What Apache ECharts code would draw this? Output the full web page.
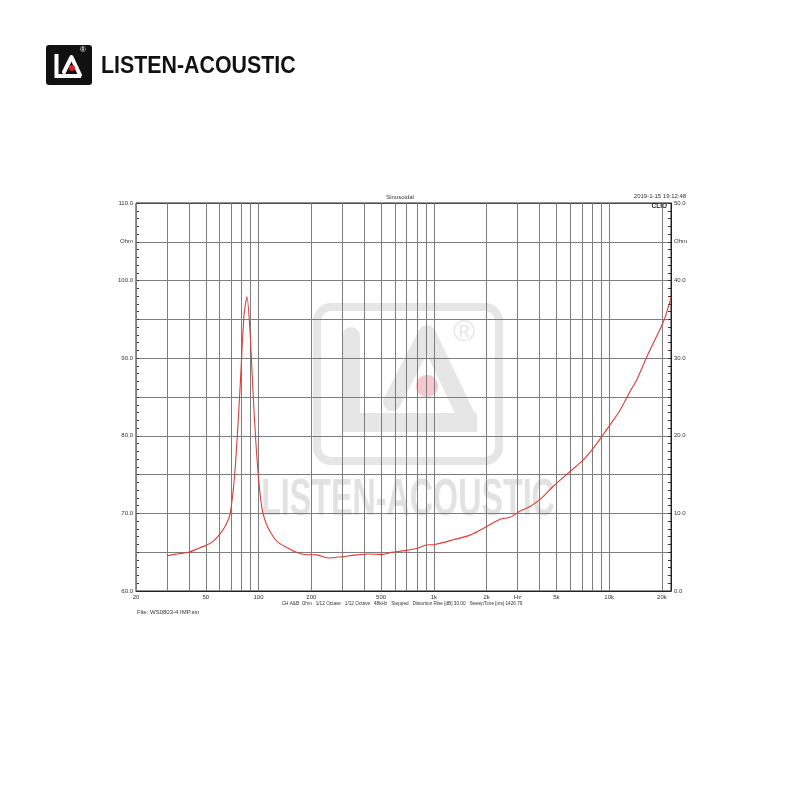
<!DOCTYPE html>
<html>
<head>
<meta charset="utf-8">
<script src="https://cdn.jsdelivr.net/npm/echarts@6/dist/echarts.min.js"></script>
<style>html,body{margin:0;padding:0;background:#fff}#c{width:800px;height:800px}</style>
</head>
<body>
<div id="c"></div>
<script>
// ---- data ----
const freqHz = [30, 35, 40, 46, 50, 55, 60, 64.4, 68.8, 73.4, 78.4, 82.6, 85.9, 89.4, 93.3, 98.4, 104.3, 110.4, 116.2, 124, 132.5, 151, 161.5, 184, 215, 250, 298, 355, 423, 504, 575, 684, 815, 891, 1016, 1292, 1608, 2000, 2384, 2722, 3104, 3541, 4037, 4808, 5985, 7128, 8128, 9077, 10120, 11540, 13160, 14360, 16660, 20560, 22540];
const impedanceOhm = [4.55, 4.8, 5.0, 5.55, 5.85, 6.4, 7.3, 8.3, 9.9, 15.5, 26, 35.5, 37.9, 33.5, 25, 16.5, 10.8, 8.7, 7.7, 6.7, 6.1, 5.4, 5.07, 4.7, 4.65, 4.25, 4.42, 4.62, 4.77, 4.72, 4.98, 5.2, 5.55, 5.9, 6.0, 6.6, 7.2, 8.3, 9.25, 9.5, 10.3, 10.9, 11.8, 13.5, 15.4, 16.9, 18.4, 19.9, 21.4, 23.3, 25.7, 27.2, 30.5, 34.9, 37.8];
const gridFreqs = [20, 30, 40, 50, 60, 70, 80, 90, 100, 200, 300, 400, 500, 600, 700, 800, 900, 1000, 2000, 3000, 4000, 5000, 6000, 7000, 8000, 9000, 10000, 20000];
const xTickLabels = {20: '20', 50: '50', 100: '100', 200: '200', 500: '500', 1000: '1k', 2000: '2k', 3000: 'Hz', 5000: '5k', 10000: '10k', 20000: '20k'};
const leftAxisLabels = {60: '60.0', 70: '70.0', 80: '80.0', 90: '90.0', 100: '100.0', 105: 'Ohm', 110: '110.0'};
const rightAxisLabels = {0: '0.0', 10: '10.0', 20: '20.0', 30: '30.0', 40: '40.0', 45: 'Ohm', 50: '50.0'};
const titleText = 'Sinusoidal';
const dateText = '2019-1-15 19:12:48';
const infoText = 'CH A&B  Ohm   1/12 Octave   1/12 Octave   48kHz   Stepped   Distortion Rise [dB] 30.00   SweepTime [ms] 1426.79';
const fileText = 'File: WS0803-4 IMP.sin';
const brandText = 'LISTEN-ACOUSTIC';

const chart = echarts.init(document.getElementById('c'), null, {renderer: 'canvas'});
const seriesData = freqHz.map((f, i) => [f, impedanceOhm[i]]);
const gridColor = '#7d7d7d';
const wm = '#e6e6e6';

const markData = gridFreqs.map(f => {
  const lab = xTickLabels[f];
  return {
    xAxis: f,
    label: lab ? {show: true, formatter: lab, position: 'start', distance: 3, fontSize: 6, color: '#333', fontFamily: 'Liberation Sans'} : {show: false}
  };
});

const option = {
  backgroundColor: '#fff',
  animation: false,
  grid: {left: 136, right: 129, top: 203, bottom: 209, show: true, borderColor: '#222', borderWidth: 1, backgroundColor: 'transparent', z: 2},
  xAxis: {
    type: 'log', logBase: 10, min: 20, max: 22540,
    axisLine: {show: true, lineStyle: {color: '#222', width: 1}},
    axisTick: {show: false}, axisLabel: {show: false}, splitLine: {show: false}, minorSplitLine: {show: false}
  },
  yAxis: [
    {
      type: 'value', min: 60, max: 110, interval: 5, position: 'left',
      axisLine: {show: true, lineStyle: {color: '#222'}},
      axisTick: {show: true, inside: true, length: 3, lineStyle: {color: '#333'}},
      minorTick: {show: true, splitNumber: 5, length: 3, lineStyle: {color: '#333'}},
      splitLine: {show: true, lineStyle: {color: gridColor, width: 1}},
      axisLabel: {fontSize: 6, color: '#333', margin: 3, fontFamily: 'Liberation Sans', formatter: v => leftAxisLabels[v] || ''}
    },
    {
      type: 'value', min: 0, max: 50, interval: 5, position: 'right',
      axisLine: {show: true, lineStyle: {color: '#222'}},
      axisTick: {show: true, inside: true, length: 3, lineStyle: {color: '#333'}},
      minorTick: {show: true, splitNumber: 5, length: 3, lineStyle: {color: '#333'}},
      splitLine: {show: false},
      axisLabel: {fontSize: 6, color: '#333', margin: 3, fontFamily: 'Liberation Sans', formatter: v => rightAxisLabels[v] || ''}
    }
  ],
  series: [{
    type: 'line', yAxisIndex: 1, data: seriesData, showSymbol: false, smooth: 0.25, z: 5,
    lineStyle: {color: '#e53935', width: 1.1},
    markLine: {silent: true, symbol: 'none', animation: false, lineStyle: {color: gridColor, type: 'solid', width: 1}, label: {show: false}, data: markData}
  }],
  graphic: [
    // watermark (behind the grid)
    {type: 'rect', z: -10, shape: {x: 317, y: 307, width: 182, height: 154, r: 14}, style: {fill: 'none', stroke: wm, lineWidth: 8}},
    {type: 'rect', z: -10, shape: {x: 342, y: 327, width: 18, height: 105, r: [9, 9, 0, 0]}, style: {fill: wm}},
    {type: 'rect', z: -10, shape: {x: 342, y: 413, width: 135, height: 19}, style: {fill: wm}},
    {type: 'polyline', z: -10, shape: {points: [[392, 402], [427, 334], [468, 420]]}, style: {stroke: wm, lineWidth: 18, lineCap: 'round', lineJoin: 'round', fill: 'none'}},
    {type: 'circle', z: -9, shape: {cx: 427, cy: 386, r: 11}, style: {fill: '#f6c8cd'}},
    {type: 'text', z: -10, left: 453, top: 318, style: {text: '®', fontSize: 30, fill: wm, fontFamily: 'Liberation Sans'}},
    {type: 'text', z: -10, x: 408, y: 501, scaleX: 0.62, style: {text: brandText, fontSize: 52, fontWeight: 'bold', fill: '#e2e2e2', fontFamily: 'Liberation Sans', align: 'center', verticalAlign: 'middle'}},
    // top-left logo
    {type: 'rect', shape: {x: 46, y: 45, width: 46, height: 40, r: 3}, style: {fill: '#111'}},
    {type: 'polyline', shape: {points: [[56.5, 54], [56.5, 76], [81, 76]]}, style: {stroke: '#fff', lineWidth: 4, fill: 'none', lineJoin: 'miter'}},
    {type: 'polyline', shape: {points: [[64, 72], [71.5, 57], [80, 75]]}, style: {stroke: '#fff', lineWidth: 4, fill: 'none', lineCap: 'round', lineJoin: 'round'}},
    {type: 'circle', shape: {cx: 72, cy: 68, r: 3}, style: {fill: '#e02020'}},
    {type: 'text', x: 80, y: 46, style: {text: '®', fontSize: 8, fill: '#fff', fontFamily: 'Liberation Sans'}},
    {type: 'text', x: 101, y: 66.5, scaleX: 0.89, style: {text: brandText, fontSize: 24, fontWeight: 'bold', fill: '#111', fontFamily: 'Liberation Sans', verticalAlign: 'middle'}},
    // chart texts
    {type: 'text', x: 400, y: 197, style: {text: titleText, fontSize: 6, fill: '#333', fontFamily: 'Liberation Sans', align: 'center', verticalAlign: 'middle'}},
    {type: 'text', x: 660, y: 196, style: {text: dateText, fontSize: 6, fill: '#333', fontFamily: 'Liberation Sans', align: 'center', verticalAlign: 'middle'}},
    {type: 'text', x: 667, y: 206, z: 20, style: {text: 'CLIO', fontSize: 6.5, fontWeight: 'bold', fill: '#222', fontFamily: 'Liberation Sans', align: 'right', verticalAlign: 'middle'}},
    {type: 'text', x: 402, y: 603, scaleX: 0.78, style: {text: infoText, fontSize: 6, fill: '#333', fontFamily: 'Liberation Sans', align: 'center', verticalAlign: 'middle'}},
    {type: 'text', x: 137, y: 612, style: {text: fileText, fontSize: 6, fill: '#333', fontFamily: 'Liberation Sans', verticalAlign: 'middle'}}
  ]
};
chart.setOption(option);
</script>
</body>
</html>
